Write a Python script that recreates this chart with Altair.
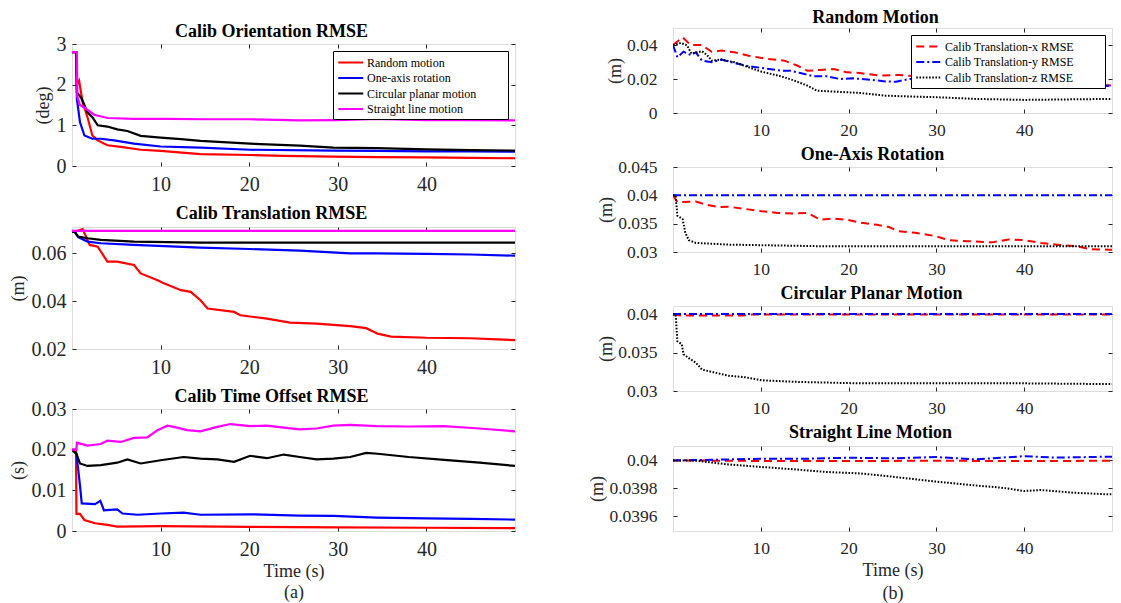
import altair as alt
import pandas as pd

FONT = "Liberation Serif"
TXT = "#262626"
TICK = 4
X_TICKS = [10, 20, 30, 40]
PAD = "\u2800" * 3

# ---------------- left column (a) ----------------
LEFT_NAMES = ["Random motion", "One-axis rotation", "Circular planar motion", "Straight line motion"]
LEFT_COLORS = ["#FF0000", "#0000FF", "#000000", "#FF00FF"]

ORI_RED_T = [0, 0.5, 0.55, 0.8, 1.2, 1.75, 2.3, 2.9, 4.0, 5.5, 7.75, 10, 14.5, 20.1, 23.9, 29.5, 34.4, 40, 45, 50]
ORI_RED_V = [2.8, 2.8, 2.0, 2.1, 1.57, 1.2, 0.75, 0.63, 0.51, 0.47, 0.40, 0.37, 0.29, 0.27, 0.25, 0.23, 0.22, 0.21, 0.2, 0.19]
ORI_BLUE_T = [0, 0.5, 0.55, 0.9, 1.4, 2.3, 3.25, 4.75, 7, 10, 14.5, 20.1, 29.5, 34.4, 40, 45, 50]
ORI_BLUE_V = [2.8, 2.8, 1.65, 1.08, 0.75, 0.67, 0.67, 0.63, 0.55, 0.48, 0.45, 0.40, 0.38, 0.37, 0.36, 0.36, 0.35]
ORI_BLACK_T = [0, 0.5, 0.55, 1.1, 1.75, 2.3, 2.9, 4.0, 5.1, 6.25, 7.75, 10, 12.3, 14.5, 20.1, 25.7, 29.5, 34.4, 40, 45, 50]
ORI_BLACK_V = [2.8, 2.8, 1.81, 1.65, 1.32, 1.2, 1.0, 0.97, 0.9, 0.86, 0.74, 0.70, 0.66, 0.62, 0.55, 0.50, 0.45, 0.44, 0.41, 0.39, 0.38]
ORI_MAG_T = [0, 0.55, 0.6, 0.9, 1.5, 2.5, 4, 7, 10.8, 15, 20, 25.7, 30, 34.4, 40, 45, 50]
ORI_MAG_V = [2.8, 2.8, 1.7, 1.5, 1.42, 1.26, 1.18, 1.16, 1.16, 1.15, 1.15, 1.12, 1.13, 1.16, 1.13, 1.13, 1.12]

TRA_RED_T = [0, 0.3, 1.2, 2.0, 2.9, 4.0, 5.1, 7.0, 7.75, 9.6, 10.3, 12.3, 13.4, 14.5, 15.3, 18.3, 19, 22, 24.6, 27.6, 31.4, 33.2, 34.5, 36, 40, 45, 48, 50]
TRA_RED_V = [0.069, 0.069, 0.0701, 0.0635, 0.0628, 0.0565, 0.0565, 0.0551, 0.0516, 0.0488, 0.0476, 0.0446, 0.0439, 0.0404, 0.0369, 0.0355, 0.0341, 0.0327, 0.031, 0.0306, 0.0296, 0.0287, 0.0264, 0.0252, 0.0247, 0.0245, 0.024, 0.0237]
TRA_BLUE_T = [0, 0.3, 0.7, 1.75, 3.25, 7, 14.5, 20, 25.7, 31.4, 34.4, 40, 45, 50]
TRA_BLUE_V = [0.069, 0.069, 0.0668, 0.0649, 0.0642, 0.0635, 0.0624, 0.0618, 0.0611, 0.0600, 0.0600, 0.0598, 0.0595, 0.059]
TRA_BLACK_T = [0, 0.3, 0.7, 1.75, 3.25, 7, 14.5, 25, 35, 50]
TRA_BLACK_V = [0.069, 0.069, 0.067, 0.0663, 0.0656, 0.0649, 0.0645, 0.0645, 0.0645, 0.0645]
TRA_MAG_T = [0, 10, 20, 30, 40, 50]
TRA_MAG_V = [0.0694, 0.0694, 0.0694, 0.0694, 0.0694, 0.0694]

TIM_RED_T = [0, 0.45, 0.5, 0.9, 1.4, 2.6, 4.0, 5.1, 10, 20, 30, 40, 50]
TIM_RED_V = [0.02, 0.02, 0.0042, 0.0042, 0.0027, 0.0019, 0.0015, 0.0011, 0.0012, 0.001, 0.0009, 0.0008, 0.0007]
TIM_BLUE_T = [0, 0.5, 0.9, 1.1, 2.6, 3.2, 3.6, 5.1, 5.7, 7.4, 10, 12.6, 14.5, 20.1, 25.7, 29.5, 34.4, 40, 45, 50]
TIM_BLUE_V = [0.02, 0.019, 0.0112, 0.0068, 0.0066, 0.0074, 0.0051, 0.0053, 0.0043, 0.004, 0.0043, 0.0045, 0.004, 0.0041, 0.0038, 0.0037, 0.0033, 0.0031, 0.003, 0.0028]
TIM_BLACK_T = [0, 0.5, 0.9, 1.75, 3.25, 5.1, 6.25, 7.75, 10, 12.6, 14.5, 16.4, 18.3, 20.1, 22, 23.9, 25.7, 27.6, 29.5, 31.4, 33.2, 34.5, 38, 42, 46, 50]
TIM_BLACK_V = [0.02, 0.019, 0.0166, 0.016, 0.0162, 0.0168, 0.0176, 0.0166, 0.0174, 0.0182, 0.0178, 0.0176, 0.017, 0.0185, 0.0179, 0.0188, 0.0182, 0.0176, 0.0178, 0.0182, 0.0192, 0.019, 0.0182, 0.0175, 0.0168, 0.016]
TIM_MAG_T = [0, 0.5, 0.55, 1.75, 3.25, 4.0, 5.5, 7, 8.5, 9.6, 10.75, 11.5, 13, 14.5, 16.4, 17.9, 20.1, 22, 23.9, 25.7, 27.6, 29.5, 31.4, 34.4, 38, 42, 46, 50]
TIM_MAG_V = [0.02, 0.02, 0.0217, 0.021, 0.0214, 0.0222, 0.0219, 0.0229, 0.023, 0.0247, 0.0259, 0.0256, 0.0248, 0.0245, 0.0256, 0.0263, 0.0258, 0.0259, 0.0254, 0.025, 0.0252, 0.0259, 0.0261, 0.0258, 0.0257, 0.0258, 0.0252, 0.0245]

# ---------------- right column (b) ----------------
RIGHT_NAMES = ["Calib Translation-x RMSE", "Calib Translation-y RMSE", "Calib Translation-z RMSE"]
RIGHT_COLORS = ["#FF0000", "#0000FF", "#000000"]
RIGHT_DASHES = [[8, 5], [8, 3, 2, 3], [1.6, 1.6]]

RND_X_T = [0, 1.1, 2.0, 3.3, 4.4, 5.5, 7.0, 8.6, 10.8, 12.7, 14.2, 15.3, 16.8, 18.3, 19.8, 21.3, 23.5, 25.6, 28, 30, 33, 36, 40, 44, 47, 50]
RND_X_V = [0.04, 0.0445, 0.04, 0.04, 0.036, 0.0367, 0.0357, 0.0337, 0.0318, 0.0308, 0.0278, 0.0249, 0.0253, 0.0259, 0.0239, 0.0235, 0.022, 0.0224, 0.0215, 0.021, 0.0195, 0.019, 0.018, 0.0175, 0.017, 0.0161]
RND_Y_T = [0, 0.5, 1.2, 2.0, 2.6, 3.3, 4.4, 5.5, 7, 8.6, 10.1, 12.3, 13.4, 14.5, 16, 17.5, 19, 20.5, 22.7, 24.2, 25.4, 26.9, 30, 34, 38, 42, 46, 50]
RND_Y_V = [0.04, 0.0328, 0.0361, 0.0341, 0.0357, 0.0308, 0.0298, 0.0314, 0.0294, 0.0275, 0.0265, 0.0249, 0.0249, 0.0235, 0.0216, 0.0216, 0.02, 0.0204, 0.0194, 0.0186, 0.0184, 0.02, 0.019, 0.0165, 0.016, 0.016, 0.0158, 0.016]
RND_Z_T = [0, 0.9, 1.6, 2.1, 3.3, 3.9, 4.4, 5.5, 7, 8.6, 10.1, 12.3, 13.8, 15.3, 16.4, 18.3, 21.3, 24.2, 27, 30, 34.4, 40, 45, 50]
RND_Z_V = [0.04, 0.0412, 0.0398, 0.0349, 0.0363, 0.034, 0.0308, 0.0314, 0.0298, 0.0269, 0.0243, 0.0216, 0.0191, 0.0161, 0.0131, 0.0126, 0.0118, 0.0102, 0.0097, 0.0093, 0.0083, 0.0077, 0.008, 0.0083]

ONE_X_T = [0, 0.5, 2.6, 3.7, 5.2, 6.3, 8.2, 10.1, 11.9, 13.8, 15.3, 16.8, 18.3, 19.8, 21.3, 23.2, 24.6, 25.6, 27.6, 29.9, 31.4, 33.6, 36.3, 38.2, 40, 41.9, 43.8, 46, 47.5, 49.6, 50]
ONE_X_V = [0.04, 0.0388, 0.0389, 0.0384, 0.0379, 0.038, 0.0376, 0.0372, 0.0369, 0.0368, 0.0369, 0.0357, 0.0359, 0.0357, 0.0352, 0.0348, 0.0344, 0.0337, 0.0334, 0.0328, 0.0321, 0.0319, 0.0317, 0.0322, 0.0321, 0.0316, 0.0313, 0.031, 0.0305, 0.0304, 0.0304]
ONE_Y_T = [0, 10, 20, 30, 40, 50]
ONE_Y_V = [0.04, 0.04, 0.04, 0.04, 0.04, 0.04]
ONE_Z_T = [0, 0.3, 0.5, 1.1, 1.4, 1.8, 2.6, 6.3, 10.1, 17.5, 30, 40, 50]
ONE_Z_V = [0.04, 0.04, 0.0364, 0.0358, 0.0334, 0.0321, 0.0316, 0.0313, 0.0312, 0.031, 0.031, 0.031, 0.031]

CIR_X_T = [0, 1, 8, 9, 50]
CIR_X_V = [0.04, 0.03985, 0.03985, 0.03998, 0.03998]
CIR_Y_T = [0, 10, 20, 30, 40, 50]
CIR_Y_V = [0.04005, 0.04005, 0.04005, 0.04005, 0.04005, 0.04005]
CIR_Z_T = [0, 0.3, 0.5, 1.0, 1.2, 1.8, 2.6, 3.3, 4.4, 6.3, 8.2, 10.1, 13.8, 17.5, 21.3, 30, 40, 50]
CIR_Z_V = [0.04, 0.04, 0.0365, 0.0361, 0.0348, 0.0343, 0.0337, 0.0328, 0.0325, 0.032, 0.0318, 0.0314, 0.0312, 0.0311, 0.031, 0.031, 0.031, 0.0309]

STR_X_T = [0, 5, 10, 20, 30, 40, 50]
STR_X_V = [0.04, 0.039998, 0.039996, 0.039996, 0.039997, 0.039996, 0.039997]
STR_Y_T = [0, 5, 10, 15, 20, 25, 30, 34.4, 37.4, 40, 43.7, 50]
STR_Y_V = [0.04, 0.040005, 0.040012, 0.040012, 0.040019, 0.040015, 0.040024, 0.040007, 0.04002, 0.04003, 0.04002, 0.040027]
STR_Z_T = [0, 2, 2.6, 6.3, 10.1, 13.8, 17.5, 21.3, 24.2, 30, 34.4, 37.4, 40, 41.9, 45.6, 49.6, 50]
STR_Z_V = [0.04, 0.04, 0.039998, 0.039971, 0.039953, 0.039936, 0.039917, 0.039907, 0.039889, 0.039848, 0.039821, 0.039805, 0.039781, 0.039788, 0.039769, 0.039757, 0.039757]


def frame(names, ts, vs):
    rows = []
    for o, (n, t, v) in enumerate(zip(names, ts, vs)):
        for a, b in zip(t, v):
            rows.append({"t": a, "v": b, "s": n, "o": o})
    return pd.DataFrame(rows)


def panel(df, ydom, yticks, title, ytitle, names, colors, dashes, show_legend,
          width, height, label_size, ylab_pad, ytitle_pad, title_dx, title_off, sw,
          xtitle=None, xtitle_pad=3, xtitle_lh=21):
    xaxis_kw = dict(orient="bottom", values=X_TICKS, offset=-TICK, tickSize=TICK, tickColor=TXT,
                    domain=False, grid=False, labelFont=FONT, labelFontSize=label_size,
                    labelColor=TXT, labelPadding=8)
    if xtitle:
        xaxis_kw.update(titleFont=FONT, titleFontSize=18, titleFontWeight="normal",
                        titleColor=TXT, titlePadding=xtitle_pad, titleLineHeight=xtitle_lh)
    xs = alt.Scale(domain=[0, 50], nice=False, zero=False)
    ys = alt.Scale(domain=ydom, nice=False, zero=False)
    x_main = alt.X("t:Q", scale=xs, axis=alt.Axis(**xaxis_kw), title=xtitle if xtitle else None)
    y_main = alt.Y("v:Q", scale=ys, title=ytitle,
                   axis=alt.Axis(orient="left", values=yticks, format="~g", offset=-TICK, tickSize=TICK,
                                 tickColor=TXT, domain=False, grid=False, labelFont=FONT,
                                 labelFontSize=label_size, labelColor=TXT, labelPadding=ylab_pad,
                                 titleFont=FONT, titleFontSize=18, titleFontWeight="normal",
                                 titleColor=TXT, titlePadding=ytitle_pad))
    leg = alt.Legend(orient="top-right", offset=7, title=None, labelFont=FONT, labelFontSize=12,
                     labelColor="black", symbolType="M-1,0H3", symbolSize=156, symbolStrokeWidth=2,
                     fillColor="white", strokeColor="black", padding=4, rowPadding=1.5,
                     labelOffset=15, labelExpr="datum.label + '" + PAD + "'") if show_legend else None
    enc = dict(x=x_main, y=y_main,
               color=alt.Color("s:N", scale=alt.Scale(domain=names, range=colors), legend=leg))
    if dashes:
        enc["strokeDash"] = alt.StrokeDash("s:N", scale=alt.Scale(domain=names, range=dashes), legend=leg)
    lines = alt.Chart(df).mark_line(strokeWidth=sw, clip=True).encode(**enc)
    ghost = alt.Chart(df).mark_line(opacity=0).encode(
        x=alt.X("t:Q", scale=xs, title=None,
                axis=alt.Axis(orient="top", values=X_TICKS, labels=False, offset=-TICK, tickSize=TICK,
                              tickColor=TXT, domain=False, grid=False)),
        y=alt.Y("v:Q", scale=ys, title=None,
                axis=alt.Axis(orient="right", values=yticks, labels=False, offset=-TICK, tickSize=TICK,
                              tickColor=TXT, domain=False, grid=False)))
    return alt.layer(ghost, lines).resolve_axis(x="independent", y="independent").properties(
        width=width, height=height,
        title=alt.Title(title, font=FONT, fontSize=18, fontWeight="bold", color="black",
                        offset=title_off, frame="group", anchor="middle", dx=title_dx))


LW, LH = 443, 122
RW, RH = 439, 85

l1 = panel(frame(LEFT_NAMES, [ORI_RED_T, ORI_BLUE_T, ORI_BLACK_T, ORI_MAG_T],
                 [ORI_RED_V, ORI_BLUE_V, ORI_BLACK_V, ORI_MAG_V]),
           [0, 3], [0, 1, 2, 3], "Calib Orientation RMSE", "(deg)", LEFT_NAMES, LEFT_COLORS, None, True,
           LW, LH, 20, 6, 4, -22, -7, 2.2)
l2 = panel(frame(LEFT_NAMES, [TRA_RED_T, TRA_BLUE_T, TRA_BLACK_T, TRA_MAG_T],
                 [TRA_RED_V, TRA_BLUE_V, TRA_BLACK_V, TRA_MAG_V]),
           [0.02, 0.071], [0.02, 0.04, 0.06], "Calib Translation RMSE", "(m)", LEFT_NAMES, LEFT_COLORS, None, False,
           LW, LH, 20, 6, 4, -22, 4, 2.2)
l3 = panel(frame(LEFT_NAMES, [TIM_RED_T, TIM_BLUE_T, TIM_BLACK_T, TIM_MAG_T],
                 [TIM_RED_V, TIM_BLUE_V, TIM_BLACK_V, TIM_MAG_V]),
           [0, 0.03], [0, 0.01, 0.02, 0.03], "Calib Time Offset RMSE", "(s)", LEFT_NAMES, LEFT_COLORS, None, False,
           LW, LH, 20, 6, 4, -22, -7, 2.2, xtitle=["Time (s)", "(a)"], xtitle_pad=3, xtitle_lh=21)

r1 = panel(frame(RIGHT_NAMES, [RND_X_T, RND_Y_T, RND_Z_T], [RND_X_V, RND_Y_V, RND_Z_V]),
           [0, 0.05], [0, 0.02, 0.04], "Random Motion", "(m)", RIGHT_NAMES, RIGHT_COLORS, RIGHT_DASHES, True,
           RW, RH, 17.5, 16, 2, -17, 1, 2)
r2 = panel(frame(RIGHT_NAMES, [ONE_X_T, ONE_Y_T, ONE_Z_T], [ONE_X_V, ONE_Y_V, ONE_Z_V]),
           [0.03, 0.045], [0.03, 0.035, 0.04, 0.045], "One-Axis Rotation", "(m)", RIGHT_NAMES, RIGHT_COLORS,
           RIGHT_DASHES, False, RW, RH, 17.5, 16, 2, -20, -6, 2)
r3 = panel(frame(RIGHT_NAMES, [CIR_X_T, CIR_Y_T, CIR_Z_T], [CIR_X_V, CIR_Y_V, CIR_Z_V]),
           [0.03, 0.0411], [0.03, 0.035, 0.04], "Circular Planar Motion", "(m)", RIGHT_NAMES, RIGHT_COLORS,
           RIGHT_DASHES, False, RW, RH, 17.5, 16, 2, -21, 2, 2)
r4 = panel(frame(RIGHT_NAMES, [STR_X_T, STR_Y_T, STR_Z_T], [STR_X_V, STR_Y_V, STR_Z_V]),
           [0.039495, 0.040103], [0.0396, 0.0398, 0.04], "Straight Line Motion", "(m)", RIGHT_NAMES, RIGHT_COLORS,
           RIGHT_DASHES, False, RW, RH, 17.5, 16, 2, -22, 4, 2, xtitle=["Time (s)", "(b)"], xtitle_pad=5, xtitle_lh=23)

spacer = alt.Chart(pd.DataFrame({"a": [0]})).mark_point(opacity=0).encode(
    x=alt.value(0), y=alt.value(0)).properties(width=1, height=1, view=alt.ViewBackground(stroke="transparent"))

left_inner = alt.vconcat(l1, l2, l3, spacing=9).resolve_scale(
    x="independent", y="independent").resolve_legend(color="independent")
left = alt.vconcat(spacer, left_inner, spacing=-10).resolve_scale(
    x="independent", y="independent").resolve_legend(color="independent")
right = alt.vconcat(r1, r2, r3, r4, spacing=6).resolve_scale(
    x="independent", y="independent").resolve_legend(color="independent", strokeDash="independent")

chart = alt.hconcat(left, right, spacing=72).resolve_scale(
    color="independent", strokeDash="independent").resolve_legend(
    color="independent", strokeDash="independent").properties(
    padding={"left": 0, "top": 0, "right": 0, "bottom": 0}).configure_view(
    stroke=TXT, strokeWidth=1).configure(background="white")

chart.save("out.html", embed_options={"renderer": "svg", "actions": False})
